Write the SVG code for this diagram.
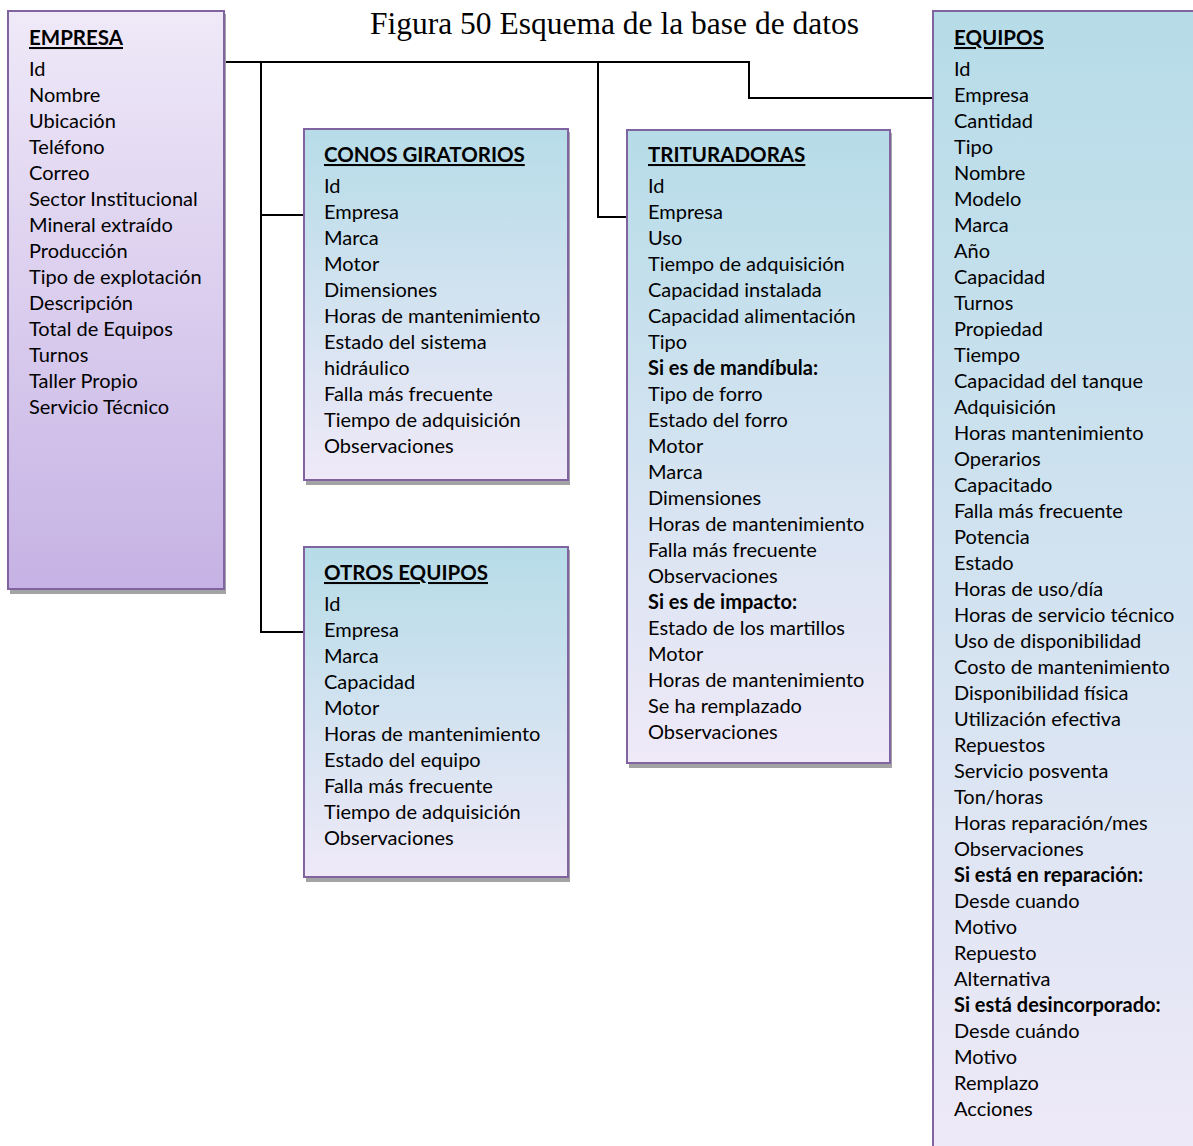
<svg xmlns="http://www.w3.org/2000/svg" width="1193" height="1146" viewBox="0 0 1193 1146">
  <defs>
    <linearGradient id="gradBlue" x1="0" y1="0" x2="0" y2="1">
      <stop offset="0" stop-color="#b6dce8"/>
      <stop offset="1" stop-color="#efe9f8"/>
    </linearGradient>
    <linearGradient id="gradPurple" x1="0" y1="0" x2="0" y2="1">
      <stop offset="0" stop-color="#efe9f8"/>
      <stop offset="1" stop-color="#c6b2e4"/>
    </linearGradient>
  </defs>
  <style>
    .box { stroke: #8064a2; stroke-width: 2; }
    .shadow { fill: #a3a3a3; }
    .blue { fill: url(#gradBlue); }
    .purple { fill: url(#gradPurple); }
    text { font-family: Lato, "Liberation Sans", sans-serif; font-size: 20px; fill: #000; }
    .h { font-weight: bold; text-decoration: underline; font-size: 20.5px; }
    .b { font-weight: bold; }
    .title { font-family: "Liberation Serif", "Times New Roman", serif; font-size: 31.5px; }
    .conn { fill: none; stroke: #000; stroke-width: 2; }
  </style>

  <rect width="1193" height="1146" fill="#ffffff"/>

  <text class="title" x="370" y="34">Figura 50 Esquema de la base de datos</text>

  <!-- connectors -->
  <g id="connectors">
    <path class="conn" d="M224 62 H749 V98 H933"/>
    <path class="conn" d="M261 62 V632 H304"/>
    <path class="conn" d="M261 215 H304"/>
    <path class="conn" d="M598 62 V217 H627"/>
  </g>

  <!-- EMPRESA -->
  <g id="empresa">
    <rect class="shadow" x="10" y="14" width="216" height="580"/>
    <rect class="box purple" x="8" y="11" width="216" height="578"/>
    <text class="h" x="29" y="45">EMPRESA</text>
    <text x="29" y="76">Id</text>
    <text x="29" y="102">Nombre</text>
    <text x="29" y="128">Ubicación</text>
    <text x="29" y="154">Teléfono</text>
    <text x="29" y="180">Correo</text>
    <text x="29" y="206">Sector Institucional</text>
    <text x="29" y="232">Mineral extraído</text>
    <text x="29" y="258">Producción</text>
    <text x="29" y="284">Tipo de explotación</text>
    <text x="29" y="310">Descripción</text>
    <text x="29" y="336">Total de Equipos</text>
    <text x="29" y="362">Turnos</text>
    <text x="29" y="388">Taller Propio</text>
    <text x="29" y="414">Servicio Técnico</text>
  </g>

  <!-- CONOS GIRATORIOS -->
  <g id="conos">
    <rect class="shadow" x="306" y="132" width="264" height="353"/>
    <rect class="box blue" x="304" y="129" width="264" height="351"/>
    <text class="h" x="324" y="162">CONOS GIRATORIOS</text>
    <text x="324" y="193">Id</text>
    <text x="324" y="219">Empresa</text>
    <text x="324" y="245">Marca</text>
    <text x="324" y="271">Motor</text>
    <text x="324" y="297">Dimensiones</text>
    <text x="324" y="323">Horas de mantenimiento</text>
    <text x="324" y="349">Estado del sistema</text>
    <text x="324" y="375">hidráulico</text>
    <text x="324" y="401">Falla más frecuente</text>
    <text x="324" y="427">Tiempo de adquisición</text>
    <text x="324" y="453">Observaciones</text>
  </g>

  <!-- OTROS EQUIPOS -->
  <g id="otros">
    <rect class="shadow" x="306" y="550" width="264" height="332"/>
    <rect class="box blue" x="304" y="547" width="264" height="330"/>
    <text class="h" x="324" y="580">OTROS EQUIPOS</text>
    <text x="324" y="611">Id</text>
    <text x="324" y="637">Empresa</text>
    <text x="324" y="663">Marca</text>
    <text x="324" y="689">Capacidad</text>
    <text x="324" y="715">Motor</text>
    <text x="324" y="741">Horas de mantenimiento</text>
    <text x="324" y="767">Estado del equipo</text>
    <text x="324" y="793">Falla más frecuente</text>
    <text x="324" y="819">Tiempo de adquisición</text>
    <text x="324" y="845">Observaciones</text>
  </g>

  <!-- TRITURADORAS -->
  <g id="trituradoras">
    <rect class="shadow" x="629" y="133" width="263" height="635"/>
    <rect class="box blue" x="627" y="130" width="263" height="633"/>
    <text class="h" x="648" y="162">TRITURADORAS</text>
    <text x="648" y="193">Id</text>
    <text x="648" y="219">Empresa</text>
    <text x="648" y="245">Uso</text>
    <text x="648" y="271">Tiempo de adquisición</text>
    <text x="648" y="297">Capacidad instalada</text>
    <text x="648" y="323">Capacidad alimentación</text>
    <text x="648" y="349">Tipo</text>
    <text class="b" x="648" y="375">Si es de mandíbula:</text>
    <text x="648" y="401">Tipo de forro</text>
    <text x="648" y="427">Estado del forro</text>
    <text x="648" y="453">Motor</text>
    <text x="648" y="479">Marca</text>
    <text x="648" y="505">Dimensiones</text>
    <text x="648" y="531">Horas de mantenimiento</text>
    <text x="648" y="557">Falla más frecuente</text>
    <text x="648" y="583">Observaciones</text>
    <text class="b" x="648" y="609">Si es de impacto:</text>
    <text x="648" y="635">Estado de los martillos</text>
    <text x="648" y="661">Motor</text>
    <text x="648" y="687">Horas de mantenimiento</text>
    <text x="648" y="713">Se ha remplazado</text>
    <text x="648" y="739">Observaciones</text>
  </g>

  <!-- EQUIPOS -->
  <g id="equipos">
    <rect class="box blue" x="933" y="11" width="280" height="1160"/>
    <text class="h" x="954" y="45">EQUIPOS</text>
    <text x="954" y="76">Id</text>
    <text x="954" y="102">Empresa</text>
    <text x="954" y="128">Cantidad</text>
    <text x="954" y="154">Tipo</text>
    <text x="954" y="180">Nombre</text>
    <text x="954" y="206">Modelo</text>
    <text x="954" y="232">Marca</text>
    <text x="954" y="258">Año</text>
    <text x="954" y="284">Capacidad</text>
    <text x="954" y="310">Turnos</text>
    <text x="954" y="336">Propiedad</text>
    <text x="954" y="362">Tiempo</text>
    <text x="954" y="388">Capacidad del tanque</text>
    <text x="954" y="414">Adquisición</text>
    <text x="954" y="440">Horas mantenimiento</text>
    <text x="954" y="466">Operarios</text>
    <text x="954" y="492">Capacitado</text>
    <text x="954" y="518">Falla más frecuente</text>
    <text x="954" y="544">Potencia</text>
    <text x="954" y="570">Estado</text>
    <text x="954" y="596">Horas de uso/día</text>
    <text x="954" y="622">Horas de servicio técnico</text>
    <text x="954" y="648">Uso de disponibilidad</text>
    <text x="954" y="674">Costo de mantenimiento</text>
    <text x="954" y="700">Disponibilidad física</text>
    <text x="954" y="726">Utilización efectiva</text>
    <text x="954" y="752">Repuestos</text>
    <text x="954" y="778">Servicio posventa</text>
    <text x="954" y="804">Ton/horas</text>
    <text x="954" y="830">Horas reparación/mes</text>
    <text x="954" y="856">Observaciones</text>
    <text class="b" x="954" y="882">Si está en reparación:</text>
    <text x="954" y="908">Desde cuando</text>
    <text x="954" y="934">Motivo</text>
    <text x="954" y="960">Repuesto</text>
    <text x="954" y="986">Alternativa</text>
    <text class="b" x="954" y="1012">Si está desincorporado:</text>
    <text x="954" y="1038">Desde cuándo</text>
    <text x="954" y="1064">Motivo</text>
    <text x="954" y="1090">Remplazo</text>
    <text x="954" y="1116">Acciones</text>
  </g>
</svg>
